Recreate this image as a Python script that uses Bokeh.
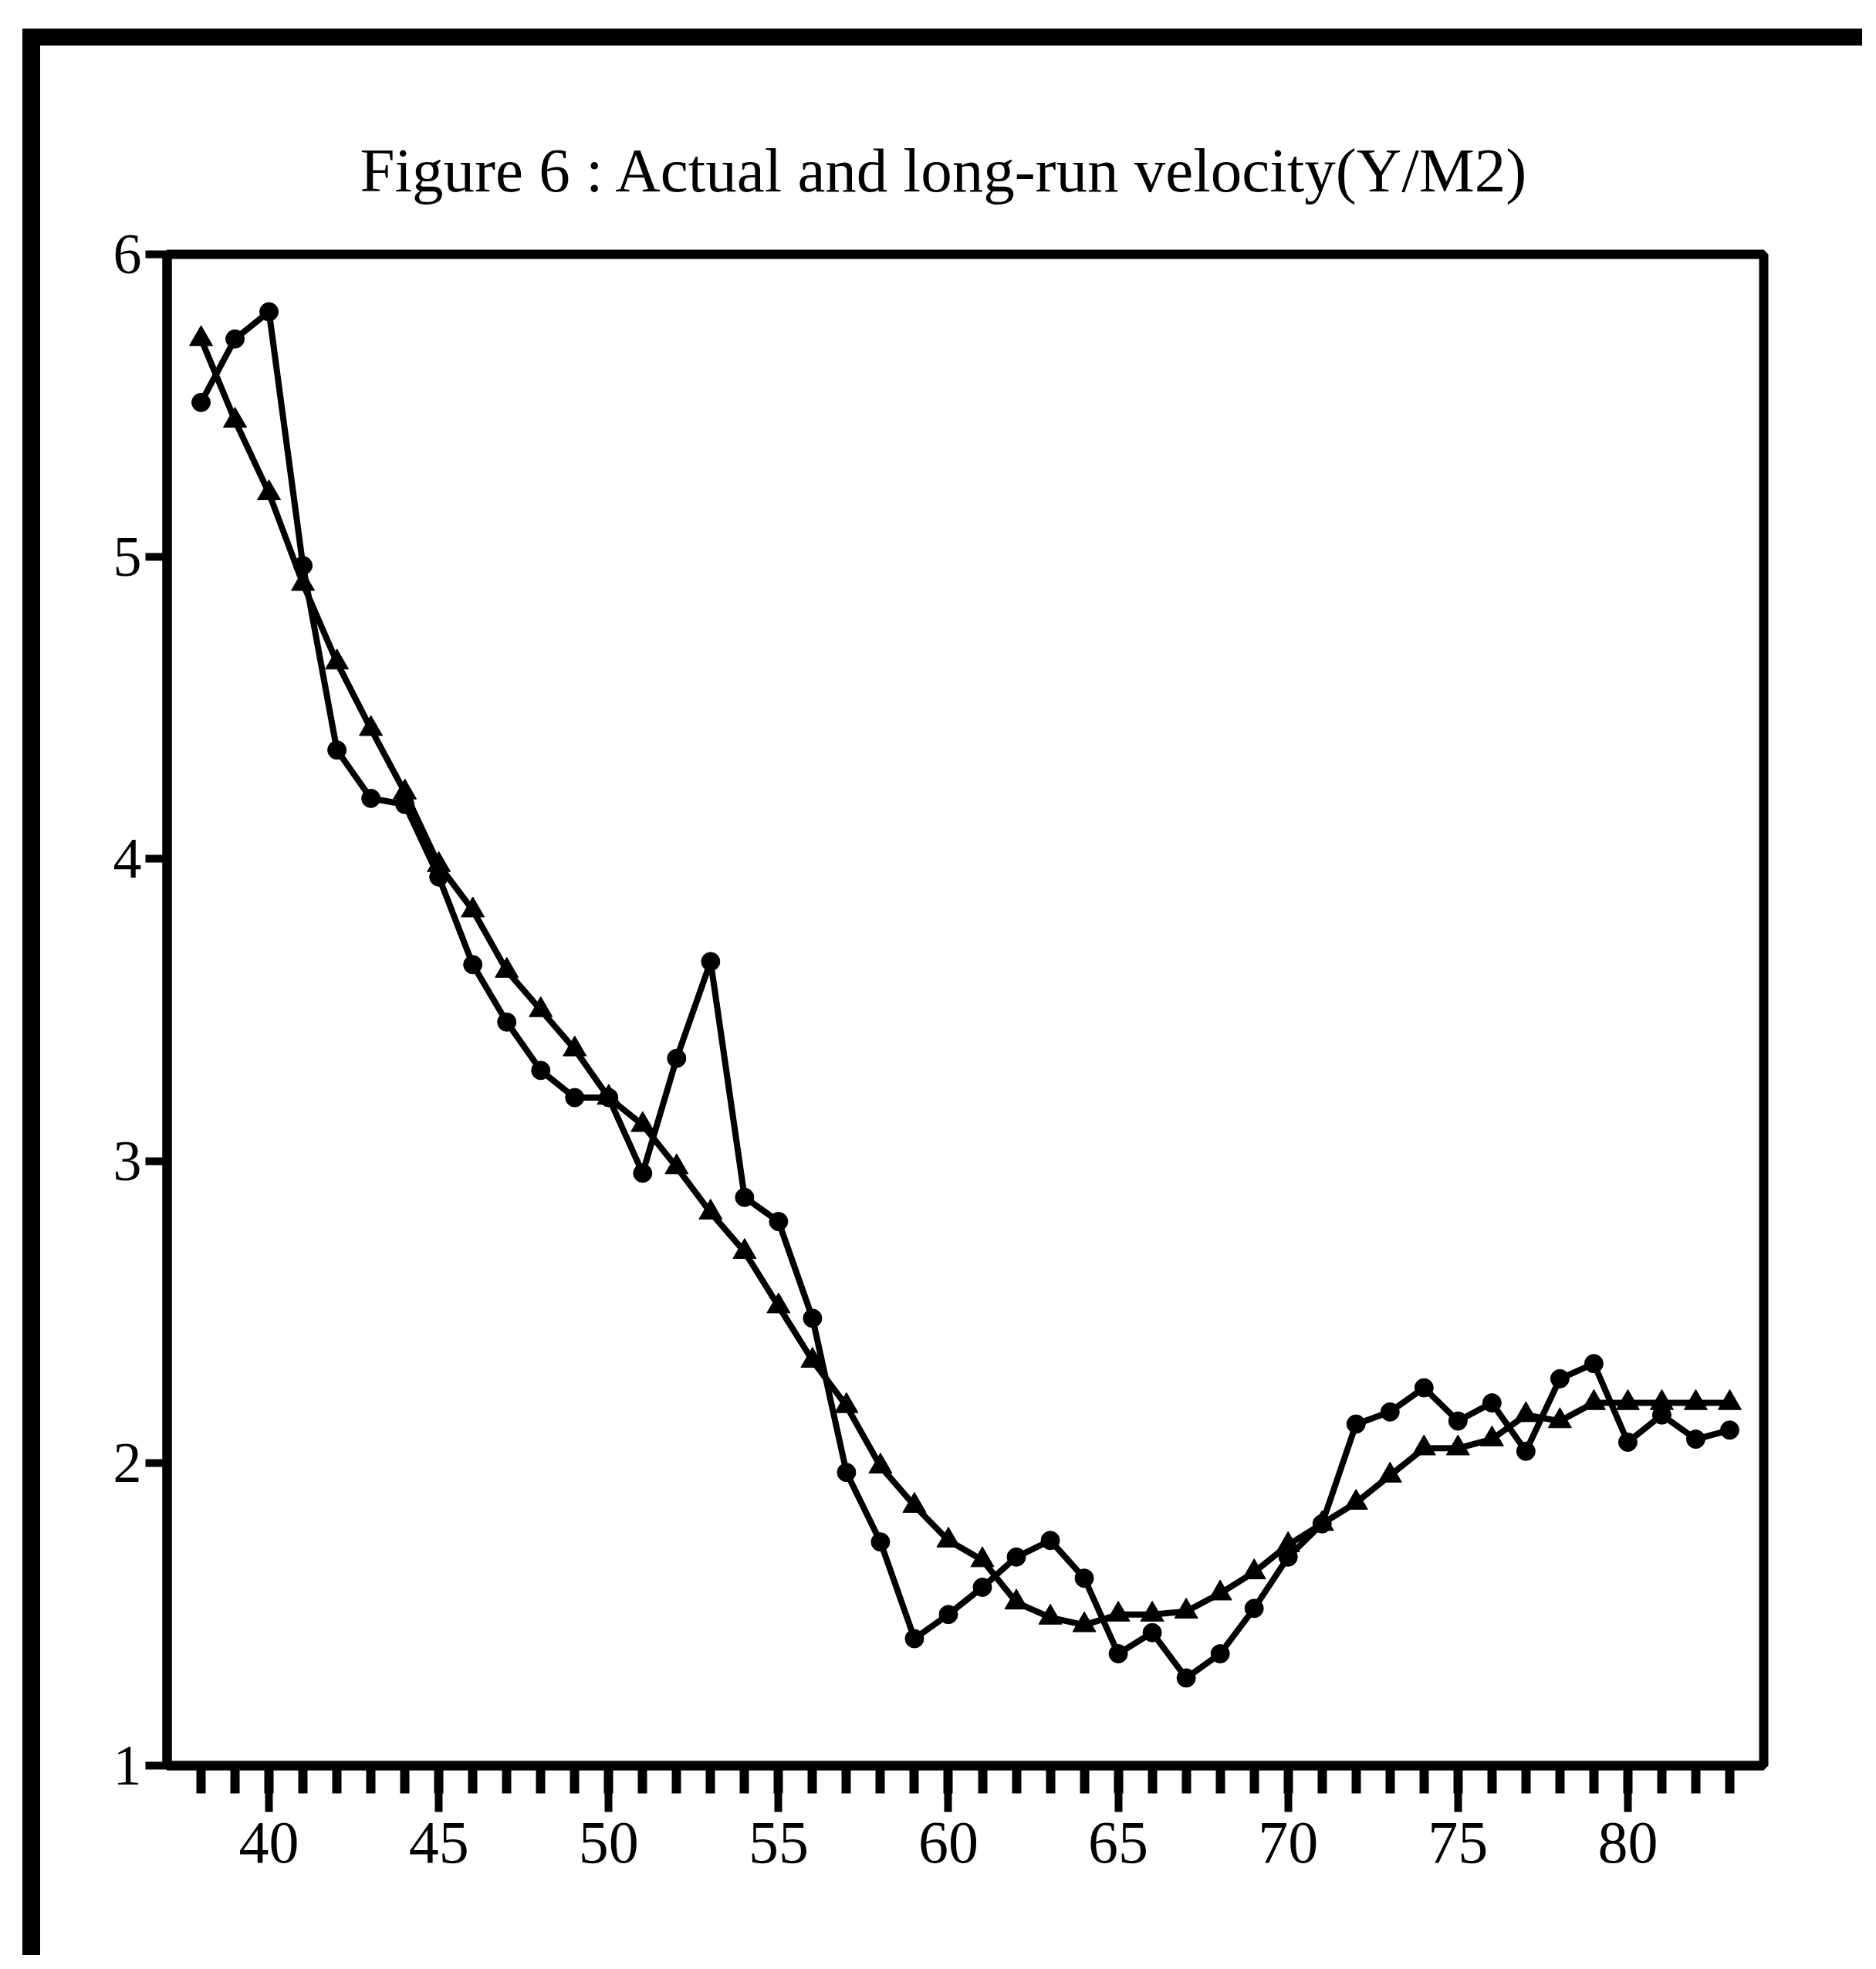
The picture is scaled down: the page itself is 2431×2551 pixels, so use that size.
from bokeh.plotting import figure
from bokeh.models import Range1d, FixedTicker
from bokeh.embed import file_html
from bokeh.resources import INLINE

# ---- data ----
years = list(range(38, 84))
actual = [5.51, 5.72, 5.81, 4.97, 4.36, 4.20, 4.18, 3.94, 3.65, 3.46,
          3.30, 3.21, 3.21, 2.96, 3.34, 3.66, 2.88, 2.80, 2.48, 1.97,
          1.74, 1.42, 1.50, 1.59, 1.69, 1.745, 1.62, 1.37, 1.44, 1.29,
          1.37, 1.52, 1.69, 1.80, 2.13, 2.17, 2.25, 2.14, 2.20, 2.04,
          2.28, 2.33, 2.07, 2.16, 2.08, 2.11]
long_run = [5.72, 5.45, 5.21, 4.91, 4.65, 4.43, 4.22, 3.98, 3.83, 3.63,
            3.50, 3.37, 3.21, 3.12, 2.98, 2.83, 2.70, 2.52, 2.34, 2.19,
            1.99, 1.86, 1.745, 1.68, 1.54, 1.49, 1.465, 1.50, 1.50, 1.51,
            1.57, 1.64, 1.73, 1.80, 1.87, 1.96, 2.05, 2.05, 2.08, 2.16,
            2.14, 2.20, 2.20, 2.20, 2.20, 2.20]
x_major_ticks = [40, 45, 50, 55, 60, 65, 70, 75, 80]
x_minor_ticks = list(range(38, 84))
y_ticks = [1, 2, 3, 4, 5, 6]
title_text = "Figure 6 : Actual and long-run velocity(Y/M2)"

FONT = "Liberation Serif"

p = figure(frame_width=2069, frame_height=1958,
           x_range=Range1d(37, 84), y_range=Range1d(1, 6),
           output_backend="svg", toolbar_location=None, tools="",
           min_border_left=164, min_border_right=128,
           min_border_top=270, min_border_bottom=246,
           background_fill_color="white", border_fill_color="white",
           title=title_text)

# outer thick frame of the page (top and left edges visible)
p.margin = (37, 0, 0, 29)
p.styles = {"border-top": "22px solid black",
            "border-left": "23px solid black"}

p.title.text_font = FONT
p.title.text_font_size = "81px"
p.title.text_font_style = "normal"
p.title.text_color = "black"
p.title.align = "left"
p.title.offset = 250
p.title.standoff = 128

p.grid.visible = False
p.outline_line_color = "black"
p.outline_line_width = 12

# x axis
xa = p.xaxis[0]
xa.ticker = FixedTicker(ticks=x_major_ticks, minor_ticks=x_minor_ticks)
xa.axis_line_width = 12
xa.axis_line_color = "black"
xa.major_tick_in = 0
xa.major_tick_out = 60
xa.major_tick_line_width = 10
xa.minor_tick_in = 0
xa.minor_tick_out = 36
xa.minor_tick_line_width = 12
xa.major_label_text_font = FONT
xa.major_label_text_font_size = "78px"
xa.major_label_text_color = "black"
xa.major_label_standoff = 14

# y axis
ya = p.yaxis[0]
ya.ticker = FixedTicker(ticks=y_ticks)
ya.axis_line_width = 12
ya.axis_line_color = "black"
ya.major_tick_in = 0
ya.major_tick_out = 28
ya.major_tick_line_width = 10
ya.minor_tick_line_color = None
ya.major_label_text_font = FONT
ya.major_label_text_font_size = "74px"
ya.major_label_text_color = "black"
ya.major_label_standoff = 5

# series
p.line(years, actual, line_color="black", line_width=8)
p.line(years, long_run, line_color="black", line_width=8)
p.scatter(years, actual, marker="circle", size=24,
          fill_color="black", line_color="black")
p.scatter(years, long_run, marker="triangle", size=30,
          fill_color="black", line_color="black")

open("out.html", "w").write(file_html(p, INLINE))
